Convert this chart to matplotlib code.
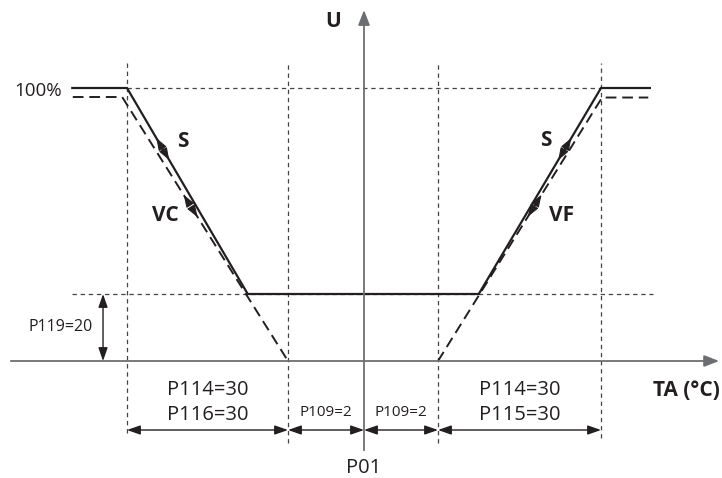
import numpy as np
import matplotlib
matplotlib.use("Agg")
import matplotlib.pyplot as plt

plt.rcParams['font.family'] = ['Open Sans', 'DejaVu Sans']

# regulation parameters (temperature offsets from set point P01 in °C, output U in %)
p109 = 2      # dead band
p114 = 30     # proportional band
p119 = 20     # minimum output
u_max = 100

# S curve (output with minimum limit)
s_x = [-42.2, -p114 - p109, -9.5, 9.5, p114 + p109, 41.0]
s_u = [u_max, u_max, p119, p119, u_max, u_max]

# VC / VF curves (drawn slightly below the S curve)
vc_x = [-42.1, -32.9, -p109]
vc_u = [96.5, 96.5, 0]
vf_x = [p109, 32.2, 40.7]
vf_u = [0, 96.3, 96.3]

guide_x = [-p114 - p109, -p109, p109, p114 + p109]
dim_spans = [(-p114 - p109, -p109), (-p109, 0), (0, p109), (p109, p114 + p109)]
dim_top = ["P114=30", "", "", "P114=30"]
dim_bottom = ["P116=30", "P109=2", "P109=2", "P115=30"]

# schematic (not to scale) axes: piecewise linear scales
x_knots = [-32, -2, 0, 2, 32]
x_pix = [127, 288, 364, 438, 601]
u_knots = [0, 20, 100]
u_pix = [117, 184, 390]


def make_pw(xs, ys):
    xs = np.asarray(xs, float)
    ys = np.asarray(ys, float)
    lo = (ys[1] - ys[0]) / (xs[1] - xs[0])
    hi = (ys[-1] - ys[-2]) / (xs[-1] - xs[-2])

    def f(v):
        v = np.asarray(v, float)
        out = np.interp(v, xs, ys)
        out = np.where(v < xs[0], ys[0] + (v - xs[0]) * lo, out)
        out = np.where(v > xs[-1], ys[-1] + (v - xs[-1]) * hi, out)
        return out
    return f


fx, ix = make_pw(x_knots, x_pix), make_pw(x_pix, x_knots)
fu, iu = make_pw(u_knots, u_pix), make_pw(u_pix, u_knots)

W, H = 722, 478
fig = plt.figure(figsize=(W / 100, H / 100), dpi=100)
ax = fig.add_axes([0, 0, 1, 1])
ax.set_xscale('function', functions=(fx, ix))
ax.set_yscale('function', functions=(fu, iu))
ax.set_xlim(float(ix(0)), float(ix(W)))
ax.set_ylim(float(iu(0)), float(iu(H)))
ax.axis('off')

black = '#231f20'
gray = '#6d6e71'
xt = ax.get_xaxis_transform()
yt = ax.get_yaxis_transform()

# guide lines
guide_bottom = [0.094, 0.073, 0.073, 0.084]
for gx, gb in zip(guide_x, guide_bottom):
    ax.plot([gx, gx], [gb, 0.868], transform=xt, color='#444444', lw=0.9,
            ls=(0, (3.5, 3)))
ax.plot([guide_x[0], guide_x[-1]], [u_max, u_max], color='#444444', lw=0.9,
        ls=(0, (3.5, 3)))
ax.plot([0.0997, 0.904], [p119, p119], transform=yt, color='#444444', lw=0.9,
        ls=(0, (3.5, 3)))

# axes with arrows
ax.annotate('', xy=(0, 0.979), xytext=(0, 0.058), xycoords=xt, textcoords=xt,
            arrowprops=dict(arrowstyle='-|>,head_length=0.9,head_width=0.35',
                            color=gray, lw=1.3, shrinkA=0, shrinkB=0))
ax.annotate('', xy=(0.996, 0), xytext=(0.015, 0), xycoords=yt, textcoords=yt,
            arrowprops=dict(arrowstyle='-|>,head_length=0.9,head_width=0.35',
                            color=gray, lw=1.3, shrinkA=0, shrinkB=0))

# curves
ax.plot(s_x, s_u, color=black, lw=1.6, solid_joinstyle='miter')
ax.plot(vc_x, vc_u, color=black, lw=1.4, ls=(0, (5.5, 3)))
ax.plot(vf_x, vf_u, color=black, lw=1.4, ls=(0, (5.5, 3)))


def point_on(x0, u0, x1, u1, t):
    a = np.array([fx(x0), fu(u0)], float)
    b = np.array([fx(x1), fu(u1)], float)
    p = a + (b - a) * t
    return float(ix(p[0])), float(iu(p[1]))


def head(seg, t, direction):
    tip = point_on(*seg, t)
    tail = point_on(*seg, t - 0.035 * direction)
    ax.annotate('', xy=tip, xytext=tail,
                arrowprops=dict(arrowstyle='-|>,head_length=0.75,head_width=0.27',
                                color=black, lw=0.8, shrinkA=0, shrinkB=0))


# segments run top -> bottom, direction +1 = downwards
s_left = (s_x[1], s_u[1], s_x[2], s_u[2])
s_right = (s_x[4], s_u[4], s_x[3], s_u[3])
vc_seg = (vc_x[1], vc_u[1], vc_x[2], vc_u[2])
vf_seg = (vf_x[1], vf_u[1], vf_x[0], vf_u[0])
for seg, t_up, t_dn in [(s_left, 0.243, 0.35), (s_right, 0.243, 0.35),
                        (vc_seg, 0.371, 0.455), (vf_seg, 0.369, 0.452)]:
    head(seg, t_up, -1)
    head(seg, t_dn, 1)

# dimension arrows
for (a, b), top, bot in zip(dim_spans, dim_top, dim_bottom):
    ax.annotate('', xy=(b, 0.1004), xytext=(a, 0.1004), xycoords=xt, textcoords=xt,
                arrowprops=dict(arrowstyle='<|-|>,head_length=0.8,head_width=0.28',
                                color=black, lw=1.0, shrinkA=0, shrinkB=0))
    mid = (a + b) / 2
    if top:
        ax.text(mid, 0.184, top, transform=xt, ha='center', va='center',
                fontsize=14.5, color=black)
        ax.text(mid, 0.132, bot, transform=xt, ha='center', va='center',
                fontsize=14.5, color=black)
    else:
        ax.text(mid, 0.136, bot, transform=xt, ha='center', va='center',
                fontsize=11, color=black)

ax.annotate('', xy=(0.1427, p119), xytext=(0.1427, 0), xycoords=yt, textcoords=yt,
            arrowprops=dict(arrowstyle='<|-|>,head_length=0.8,head_width=0.28',
                            color=black, lw=1.0, shrinkA=0, shrinkB=0))
ax.text(0.0845, 0.316, "P119=20", transform=ax.transAxes, ha='center',
        va='center', fontsize=11.5, color=black)

# labels
ax.text(0.461, 0.954, "U", transform=ax.transAxes, ha='center', va='center',
        fontsize=15, fontweight='bold', color=black)
ax.text(0.0859, 0.8096, "100%", transform=ax.transAxes, ha='right', va='center',
        fontsize=13.5, color=black)
ax.text(0.997, 0.184, "TA (°C)", transform=ax.transAxes, ha='right', va='center',
        fontsize=15, fontweight='bold', color=black)
ax.text(0, 0.021, "P01", transform=xt, ha='center', va='center',
        fontsize=14.5, color=black)
ax.text(0.2535, 0.703, "S", transform=ax.transAxes, ha='center', va='center',
        fontsize=15, fontweight='bold', color=black)
ax.text(0.2285, 0.550, "VC", transform=ax.transAxes, ha='center', va='center',
        fontsize=15, fontweight='bold', color=black)
ax.text(0.756, 0.707, "S", transform=ax.transAxes, ha='center', va='center',
        fontsize=15, fontweight='bold', color=black)
ax.text(0.778, 0.550, "VF", transform=ax.transAxes, ha='center', va='center',
        fontsize=15, fontweight='bold', color=black)

fig.savefig("out.png", dpi=100)
